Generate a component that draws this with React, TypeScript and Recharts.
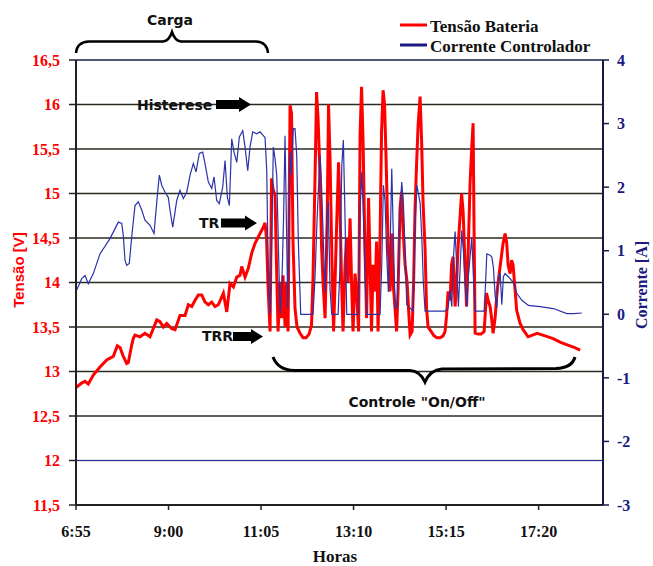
import React from 'react';
import { LineChart, Line, XAxis, YAxis, CartesianGrid, ReferenceLine } from 'recharts';

// Time in minutes since midnight, Tensão Bateria [V]
const tensaoBateria: [number, number][] = [
  [415, 12.82], [422.7, 12.87], [427.2, 12.89], [431.6, 12.86], [438.4, 12.96], [447.4, 13.05],
  [456.5, 13.13], [465.4, 13.17], [470.8, 13.29], [474.5, 13.27], [478.9, 13.17], [483.5, 13.09],
  [485.7, 13.1], [490.3, 13.3], [492.4, 13.37], [494.7, 13.41], [501.5, 13.39], [508.2, 13.43],
  [515, 13.39], [524.1, 13.58], [528.5, 13.56], [533, 13.5], [537.6, 13.54], [544.3, 13.48],
  [548.8, 13.47], [555.5, 13.63], [562.3, 13.63], [566.8, 13.75], [571.4, 13.73], [575.8, 13.8],
  [580.3, 13.86], [584.9, 13.86], [589.3, 13.78], [593.8, 13.75], [598.4, 13.78], [602.8, 13.73],
  [607.3, 13.75], [614.1, 13.88], [618.7, 13.67], [623.1, 13.99], [627.6, 13.95], [632.2, 14.06],
  [636.6, 14.08], [638.9, 14.18], [643.4, 14.06], [647.8, 14.16], [652.4, 14.33], [656.9, 14.44],
  [663.6, 14.55], [668.1, 14.62], [670.4, 14.67], [672.4, 14.5],
  [674.5, 13.95], [677.2, 13.45], [679.2, 15.17], [681.2, 15.05], [683.9, 14.98], [685.9, 14.2],
  [688, 13.45], [690.7, 14.0], [692.7, 13.6], [694.7, 14.08], [697.4, 13.5], [699.5, 14.0],
  [701.5, 13.45], [704.2, 15.99], [706.2, 15.9], [708.2, 14.46], [710.9, 13.71], [713.6, 13.5],
  [717.7, 13.43], [721.8, 13.38], [725.8, 13.38], [729.9, 13.42], [733.2, 13.52], [735.3, 14.08],
  [738, 15.21], [740, 16.14], [742, 15.85], [744.7, 15.2], [746.8, 14.4], [748.8, 14.0],
  [751.5, 13.6], [754.2, 14.6], [756.2, 16.0], [758.2, 15.4], [760.9, 14.2], [763, 13.45],
  [765, 14.0], [767, 14.6], [769.7, 15.35], [771.8, 14.8], [773.8, 14.0], [775.8, 13.45],
  [778.5, 14.2], [780.5, 14.5], [782.6, 14.0], [785.3, 14.72], [787.3, 14.0], [789.3, 13.45],
  [792, 14.1], [794.7, 13.8], [796.8, 13.45], [798.8, 15.66], [800.8, 16.2], [802.8, 15.6],
  [804.9, 14.6], [807.6, 13.6], [810.3, 14.95], [812.3, 14.2], [814.3, 13.45], [816.4, 14.2],
  [819.1, 13.9], [821.1, 14.46], [823.1, 13.45], [825.8, 14.5], [827.8, 15.69], [829.9, 16.16],
  [831.9, 16.0], [833.9, 15.4], [836.6, 14.46], [839.3, 13.9], [841.4, 14.55], [843.4, 14.0],
  [846.1, 13.7], [848.1, 13.45], [850.1, 13.9], [852.8, 14.84], [854.9, 15.02], [856.9, 14.6],
  [859.6, 14.2], [862.3, 14.0], [864.3, 13.7], [866.4, 13.41], [869.1, 13.45], [871.1, 14.0],
  [873.1, 14.84], [875.1, 15.32], [877.2, 15.77], [879.9, 16.09], [881.9, 15.6], [883.9, 14.9],
  [886.6, 14.38], [888.6, 13.71], [890.7, 13.5], [894.7, 13.45], [898.8, 13.4], [902.8, 13.38],
  [906.9, 13.38], [910.9, 13.4], [913.6, 13.45], [915.7, 13.63], [917.7, 13.9], [920.4, 13.8],
  [922.4, 14.2], [924.5, 14.29], [927.2, 13.73], [929.2, 14.0], [931.2, 14.4], [933.9, 14.74],
  [935.9, 15.0], [938, 14.8], [940.7, 14.18], [942.7, 13.73], [944.7, 14.3], [947.4, 15.11],
  [949.5, 15.49], [951.5, 15.79], [952.8, 14.6], [954.2, 13.43], [958.2, 13.42], [962.3, 13.42],
  [966.4, 13.45], [969.7, 13.88], [971.8, 13.8], [974.5, 13.73], [976.5, 13.6], [978.5, 13.43],
  [981.2, 13.6], [983.9, 13.9], [988, 14.18], [992, 14.44], [994.7, 14.55], [996.8, 14.45],
  [998.8, 14.2], [1001.5, 14.1], [1003.5, 14.25], [1005.5, 14.2], [1008.2, 13.92], [1010.3, 13.69],
  [1015, 13.54], [1019.1, 13.47], [1025.8, 13.39], [1038, 13.43], [1048.8, 13.4], [1059.6, 13.37],
  [1069, 13.33], [1078.5, 13.3], [1088, 13.27], [1096.1, 13.24],
];

// Time in minutes since midnight, Corrente Controlador [A]
const correnteControlador: [number, number][] = [
  [415.9, 0.38], [422.7, 0.56], [427.2, 0.61], [431.6, 0.48], [438.4, 0.64], [447.4, 0.95],
  [460.9, 1.19], [472.2, 1.45], [476.8, 1.43], [478.9, 1.24], [481.2, 0.85], [483.5, 0.77],
  [487, 0.8], [490.3, 1.22], [494.7, 1.71], [499.2, 1.77], [503.8, 1.64], [508.2, 1.48],
  [515, 1.4], [520.4, 1.27], [524.9, 1.87], [527.6, 2.19], [530.8, 2.03], [535.3, 1.92],
  [539.7, 1.84], [542, 1.64], [545.7, 1.37], [551.1, 1.79], [555.5, 1.95], [560, 1.82],
  [564.6, 1.92], [569.1, 2.19], [573.5, 2.37], [577.2, 2.24], [581.6, 2.53], [586.2, 2.55],
  [589.3, 2.37], [593.8, 2.08], [598.4, 1.98], [601.5, 2.16], [605.1, 1.79], [608.6, 1.74],
  [613.2, 2.0], [616.4, 2.42], [619.5, 1.84], [622.2, 1.71], [625.4, 2.76], [628.5, 2.55],
  [632.2, 2.39], [635.7, 2.79], [640.3, 2.89], [643.4, 2.63], [647, 2.26], [650.1, 2.63],
  [653.8, 2.87], [659.2, 2.84], [663.6, 2.87], [668.1, 2.81], [670.4, 2.78], [672.7, 2.26],
  [674.9, 0.48], [677.2, 0], [679.2, 1.0], [681.6, 2.63], [683.9, 2.45], [686.2, 2.19],
  [688.6, 1.0], [690.7, 0], [693, 0.41], [695.4, 1.5], [697.4, 2.81], [699.5, 1.3],
  [701.1, 0.1], [704.2, 2.55], [705.5, 2.2], [708.6, 2.92], [710.9, 2.92], [713.2, 2.5],
  [715.4, 1.14], [718.6, 0], [735.3, 0], [738, 0.61], [740.7, 1.5], [744.7, 2.5],
  [746.8, 2.0], [749.2, 1.14], [751.5, 0.35], [753.8, 1.55], [755.9, 1.77], [758.2, 0.4],
  [760.5, 0], [769.1, 0], [771.8, 0.8], [774.1, 2.34], [776.2, 2.74], [778.5, 1.5],
  [780.8, 0], [796.1, 0], [798.8, 1.66], [801.1, 2.24], [803.2, 1.6], [805.5, 0.6],
  [807.8, 0], [825.8, 0], [828.1, 0.8], [830.3, 2.03], [832.6, 1.77], [834.6, 1.0],
  [837, 0.35], [839.3, 1.0], [841.6, 2.29], [843.8, 1.2], [846.1, 0.1], [848.8, 0.1],
  [850.8, 0.8], [852.8, 1.66], [855.1, 2.08], [857.3, 1.75], [859.6, 1.0], [861.9, 0.15],
  [870.4, 0.05], [873.1, 1.4], [875.4, 2.03], [877.6, 1.9], [879.9, 1.75], [882.2, 1.2],
  [884.3, 0.5], [886.6, 0.05], [913.6, 0.05], [917.7, 0.1], [920.4, 0.38], [922.7, 0.12],
  [924.9, 0.9], [927.2, 1.3], [929.5, 0.7], [931.6, 0.12], [933.9, 0.7], [936.2, 1.32],
  [938.4, 1.0], [940.7, 0.5], [943, 0.12], [945.1, 0.6], [947.4, 0.9], [949.7, 1.21],
  [951.9, 0.6], [954.2, 0.05], [966.4, 0.05], [968.4, 0.5], [970, 0.95], [974.5, 0.93],
  [976.8, 0.9], [978.9, 0.74], [981.2, 0.3], [983.5, 0.1], [985.7, 0.59], [988, 0.65],
  [990.3, 0.15], [992.4, 0.59], [994.7, 0.64], [999.2, 0.59], [1003.8, 0.53], [1006, 0.5],
  [1010.5, 0.33], [1017.3, 0.22], [1026.2, 0.14], [1042, 0.12], [1060, 0.09], [1078.1, 0.01],
  [1087, 0.01], [1098.4, 0.02],
];

const xTicks = [415, 540, 665, 790, 915, 1040];
const xTickLabels = ['6:55', '9:00', '11:05', '13:10', '15:15', '17:20'];
const xDomain = [415, 1127];
const tensaoTicks = [11.5, 12, 12.5, 13, 13.5, 14, 14.5, 15, 15.5, 16, 16.5];
const correnteTicks = [-3, -2, -1, 0, 1, 2, 3, 4];

const SERIF = "'Liberation Serif', 'Times New Roman', serif";
const SANS = "'DejaVu Sans', Verdana, sans-serif";
const RED = '#ff0000';
const NAVY = '#1a1a80';
const BLUE_LINE = '#2a33a8';

const tensaoData = tensaoBateria.map(([t, v]) => ({ t, v }));
const correnteData = correnteControlador.map(([t, a]) => ({ t, a }));

const Arrow = ({ x1, x2, y }: { x1: number; x2: number; y: number }) => {
  const head = 12;
  return (
    <polygon
      points={`${x1},${y - 4.5} ${x2 - head},${y - 4.5} ${x2 - head},${y - 7.5} ${x2},${y} ${x2 - head},${y + 7.5} ${x2 - head},${y + 4.5} ${x1},${y + 4.5}`}
      fill="#000"
    />
  );
};

export default function App() {
  return (
    <div style={{ position: 'absolute', left: 0, top: 0, width: 653, height: 566, background: '#fff' }}>
      <LineChart
        width={653}
        height={566}
        margin={{ top: 60, right: 10, bottom: 31, left: 16 }}
      >
        <CartesianGrid yAxisId="v" vertical={false} horizontal stroke="#2b2b20" strokeWidth={1.5} />
        <XAxis
          type="number"
          dataKey="t"
          domain={xDomain}
          ticks={xTicks}
          allowDataOverflow
          tickFormatter={(v: number) => xTickLabels[xTicks.indexOf(v)] ?? ''}
          height={30}
          tickSize={5}
          tickMargin={16}
          axisLine={{ stroke: '#222', strokeWidth: 2 }}
          tickLine={{ stroke: '#222', strokeWidth: 1.5 }}
          tick={{ fill: '#111', fontFamily: SERIF, fontWeight: 'bold', fontSize: 16 }}
        />
        <YAxis
          yAxisId="v"
          orientation="left"
          width={60}
          domain={[11.5, 16.5]}
          ticks={tensaoTicks}
          allowDataOverflow
          tickFormatter={(v: number) => String(v).replace('.', ',')}
          tickSize={7}
          tickMargin={9}
          axisLine={{ stroke: '#222', strokeWidth: 2 }}
          tickLine={{ stroke: '#222', strokeWidth: 1.5 }}
          tick={{ fill: RED, fontFamily: SERIF, fontWeight: 'bold', fontSize: 16 }}
        />
        <YAxis
          yAxisId="a"
          orientation="right"
          width={40}
          domain={[-3, 4]}
          ticks={correnteTicks}
          allowDataOverflow
          tickSize={6}
          tickMargin={8}
          axisLine={{ stroke: '#1a1a40', strokeWidth: 2 }}
          tickLine={{ stroke: '#1a1a40', strokeWidth: 1.5 }}
          tick={{ fill: NAVY, fontFamily: SERIF, fontWeight: 'bold', fontSize: 16 }}
        />
        <ReferenceLine yAxisId="v" y={12} stroke="#fff" strokeWidth={2} />
        <ReferenceLine yAxisId="v" y={12} stroke="#2a2aa0" strokeWidth={1.2} />
        <ReferenceLine yAxisId="v" y={16.5} stroke="#4a5580" strokeWidth={1.5} />
        <Line
          data={tensaoData}
          dataKey="v"
          yAxisId="v"
          type="linear"
          stroke={RED}
          strokeWidth={3}
          dot={false}
          isAnimationActive={false}
        />
        <Line
          data={correnteData}
          dataKey="a"
          yAxisId="a"
          type="linear"
          stroke={BLUE_LINE}
          strokeWidth={1.2}
          dot={false}
          isAnimationActive={false}
        />
      </LineChart>
      <svg
        width={653}
        height={566}
        style={{ position: 'absolute', left: 0, top: 0, pointerEvents: 'none' }}
      >
        {/* Legend */}
        <line x1={400} y1={25} x2={427} y2={25} stroke={RED} strokeWidth={3} />
        <text x={430} y={31.5} fontFamily={SERIF} fontWeight="bold" fontSize={17} fill="#111">
          Tensão Bateria
        </text>
        <line x1={400} y1={45} x2={427} y2={45} stroke={NAVY} strokeWidth={3} />
        <text x={430} y={51.5} fontFamily={SERIF} fontWeight="bold" fontSize={17} fill="#111">
          Corrente Controlador
        </text>

        {/* Carga brace */}
        <path
          d="M76,53 Q77,42 89,41.5 L163,41.5 Q169,41 172,32 Q175,41 181,41.5 L256,41.5 Q267,42 268,53"
          fill="none"
          stroke="#000"
          strokeWidth={2.5}
        />
        <text x={170} y={25} textAnchor="middle" fontFamily={SANS} fontWeight="bold" fontSize={14} fill="#111">
          Carga
        </text>

        {/* Histerese / TR / TRR */}
        <text x={137} y={110} fontFamily={SANS} fontWeight="bold" fontSize={14} fill="#111">
          Histerese
        </text>
        <Arrow x1={216} x2={251} y={104.5} />
        <text x={199} y={228} fontFamily={SANS} fontWeight="bold" fontSize={14} fill="#111">
          TR
        </text>
        <Arrow x1={221} x2={257} y={223} />
        <text x={202} y={341} fontFamily={SANS} fontWeight="bold" fontSize={14} fill="#111">
          TRR
        </text>
        <Arrow x1={233} x2={263} y={336.5} />

        {/* Controle On/Off brace */}
        <path
          d="M273,357 Q278,370 294,370.5 L410,370.5 Q420,371 425,382 Q430,370 442,369 L556,368.5 Q572,368 575,357"
          fill="none"
          stroke="#000"
          strokeWidth={3}
        />
        <text x={417} y={407} textAnchor="middle" fontFamily={SANS} fontWeight="bold" fontSize={14} fill="#111">
          Controle "On/Off"
        </text>

        {/* Axis titles */}
        <text
          x={0}
          y={0}
          transform="translate(18,270) rotate(-90)"
          textAnchor="middle"
          dominantBaseline="central"
          fontFamily="'Liberation Sans', Arial, sans-serif"
          fontWeight="bold"
          fontSize={15}
          fill={RED}
        >
          Tensão [V]
        </text>
        <text
          x={0}
          y={0}
          transform="translate(641,285) rotate(-90)"
          textAnchor="middle"
          dominantBaseline="central"
          fontFamily={SERIF}
          fontWeight="bold"
          fontSize={16}
          fill={NAVY}
        >
          Corrente [A]
        </text>
        <text x={335} y={562} textAnchor="middle" fontFamily={SERIF} fontWeight="bold" fontSize={17} fill="#111">
          Horas
        </text>
      </svg>
    </div>
  );
}
